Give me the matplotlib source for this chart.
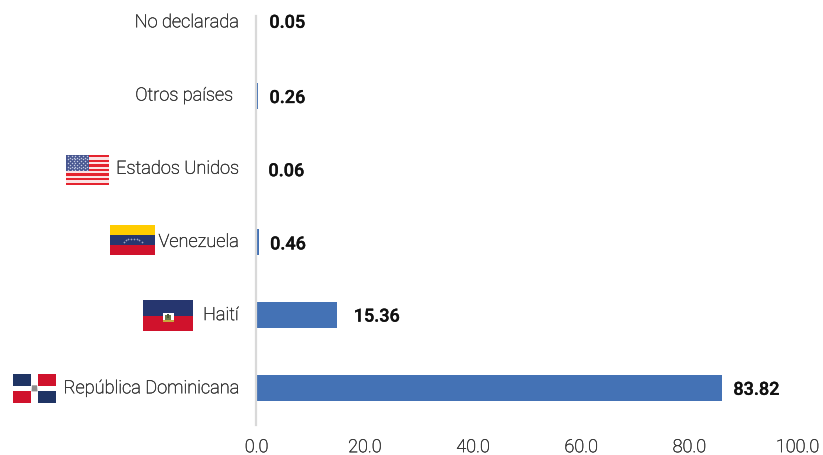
import matplotlib
matplotlib.use("Agg")
import matplotlib.pyplot as plt
import matplotlib.patheffects as pe
from matplotlib.patches import Rectangle, Polygon

W, H = 823, 455
categories = ["República Dominicana", "Haití", "Venezuela", "Estados Unidos", "Otros países", "No declarada"]
# the percentages printed beside the bars
value_labels = ["83.82", "15.36", "0.46", "0.06", "0.26", "0.05"]
# bar lengths as read against the x axis of the picture
bar_lengths = [86.0, 14.9, 0.46, 0.06, 0.26, 0.05]
x_ticks = [0, 20, 40, 60, 80, 100]
x_tick_labels = ["0.0", "20.0", "40.0", "60.0", "80.0", "100.0"]

label_end_px = [18, 18, 18, 18, 24, 18]
value_gap_px = [11.5, 16.5, 11, 11.5, 11.5, 12.5]
value_dy_px = [-1.5, -1.5, -2.5, -2.5, -2.5, -0.5]

plt.rcParams["font.family"] = ["Roboto", "DejaVu Sans"]
fig = plt.figure(figsize=(W / 100, H / 100), dpi=100, facecolor="white")

X0, X1 = 256.6, 797.6
Y_TOP, Y_BOT = 0.0, 425.0
ax = fig.add_axes([X0 / W, 1 - Y_BOT / H, (X1 - X0) / W, (Y_BOT - Y_TOP) / H])
ax.patch.set_alpha(0)
ax.set_xlim(0, 100)
step = 73.2
center0 = 388.3
ax.set_ylim((center0 - Y_BOT) / step, (center0 - Y_TOP) / step)

ys = list(range(len(categories)))
ax.barh(ys, bar_lengths, height=26 / step, color="#4472B5", zorder=1)

for s in ("top", "right", "bottom"):
    ax.spines[s].set_visible(False)
left = ax.spines["left"]
left.set_color("#D9D9D9")
left.set_linewidth(1.6)
left.set_zorder(3)
left.set_position(("outward", 0.6))
left.set_bounds((center0 - Y_BOT) / step, (center0 - 16) / step)

TEXT = "#333333"
thin = [pe.withStroke(linewidth=0.3, foreground=TEXT)]
mid = [pe.withStroke(linewidth=0.25, foreground="#111111")]

ax.set_yticks([])
ax.set_xticks(x_ticks)
ax.set_xticklabels(x_tick_labels, fontsize=13, fontweight="light", color=TEXT, path_effects=thin)
ax.tick_params(axis="x", length=0, pad=9.5)

px = 72 / 100
for y, cat, val, length, le, vg, vdy in zip(ys, categories, value_labels, bar_lengths,
                                            label_end_px, value_gap_px, value_dy_px):
    ax.annotate(cat, xy=(0, y), xytext=(-le * px, 0), textcoords="offset points",
                ha="right", va="center", fontsize=13.1, fontweight="light", color=TEXT,
                path_effects=thin, annotation_clip=False)
    ax.annotate(val, xy=(length, y), xytext=(vg * px, vdy * px), textcoords="offset points",
                ha="left", va="center", fontsize=13, fontweight="medium", color="#111111",
                path_effects=mid, annotation_clip=False)

NAVY, RED, WHITE = "#26366F", "#D0122C", "#FFFFFF"

def flag_axes(x0, y0, x1, y1):
    a = fig.add_axes([x0 / W, 1 - y1 / H, (x1 - x0) / W, (y1 - y0) / H])
    a.set_xlim(0, 1)
    a.set_ylim(1, 0)
    a.axis("off")
    return a

def band(a, x, y, w, h, c, z=1):
    a.add_patch(Rectangle((x, y), w, h, facecolor=c, edgecolor="none", zorder=z))

# Estados Unidos
a = flag_axes(66, 155, 109, 185)
n = 13
for i in range(n):
    band(a, 0, i / n, 1, 1 / n, "#E5232E" if i % 2 == 0 else "#FBE3E4")
band(a, 0, 0, 0.53, 7 / n, "#46558F", 2)
sx, sy = [], []
for r in range(9):
    for c in range(6 if r % 2 == 0 else 5):
        sx.append((c + (0.5 if r % 2 == 0 else 1.0)) * 0.53 / 6)
        sy.append((r + 0.5) * (7 / n) / 9)
a.scatter(sx, sy, s=1.2, color="#C5CCE3", linewidths=0, zorder=3)

# Venezuela
a = flag_axes(110, 225, 155, 255)
band(a, 0, 0, 1, 1 / 3, "#FFCC00")
band(a, 0, 1 / 3, 1, 1 / 3, NAVY)
band(a, 0, 2 / 3, 1, 1 / 3, RED)
sx = [0.30, 0.35, 0.41, 0.47, 0.53, 0.59, 0.65, 0.70]
sy = [0.57, 0.51, 0.47, 0.45, 0.45, 0.47, 0.51, 0.57]
a.scatter(sx, sy, s=1.6, color="#9EA3C0", linewidths=0, zorder=3)

# Haití
a = flag_axes(143, 300, 193, 331)
band(a, 0, 0, 1, 0.5, NAVY)
band(a, 0, 0.5, 1, 0.5, RED)
band(a, 0.39, 0.42, 0.22, 0.30, WHITE, 2)
band(a, 0.44, 0.48, 0.12, 0.15, "#6B7B4A", 3)
band(a, 0.39, 0.64, 0.22, 0.08, "#C8A93C", 3)
band(a, 0.485, 0.44, 0.03, 0.14, "#4A5A3A", 4)

# República Dominicana
a = flag_axes(13, 374, 56, 403)
g = 0.07
band(a, 0, 0, 1, 1, WHITE)
band(a, 0, 0, 0.5 - g, 0.5 - g, "#1F3464", 2)
band(a, 0.5 + g, 0, 0.5 - g, 0.5 - g, RED, 2)
band(a, 0, 0.5 + g, 0.5 - g, 0.5 - g, RED, 2)
band(a, 0.5 + g, 0.5 + g, 0.5 - g, 0.5 - g, "#1F3464", 2)
a.add_patch(Polygon([(0.44, 0.39), (0.56, 0.39), (0.57, 0.6), (0.43, 0.6)], facecolor="#8C8C8C", edgecolor="none", zorder=3))

fig.savefig("out.png", dpi=100, facecolor="white")
